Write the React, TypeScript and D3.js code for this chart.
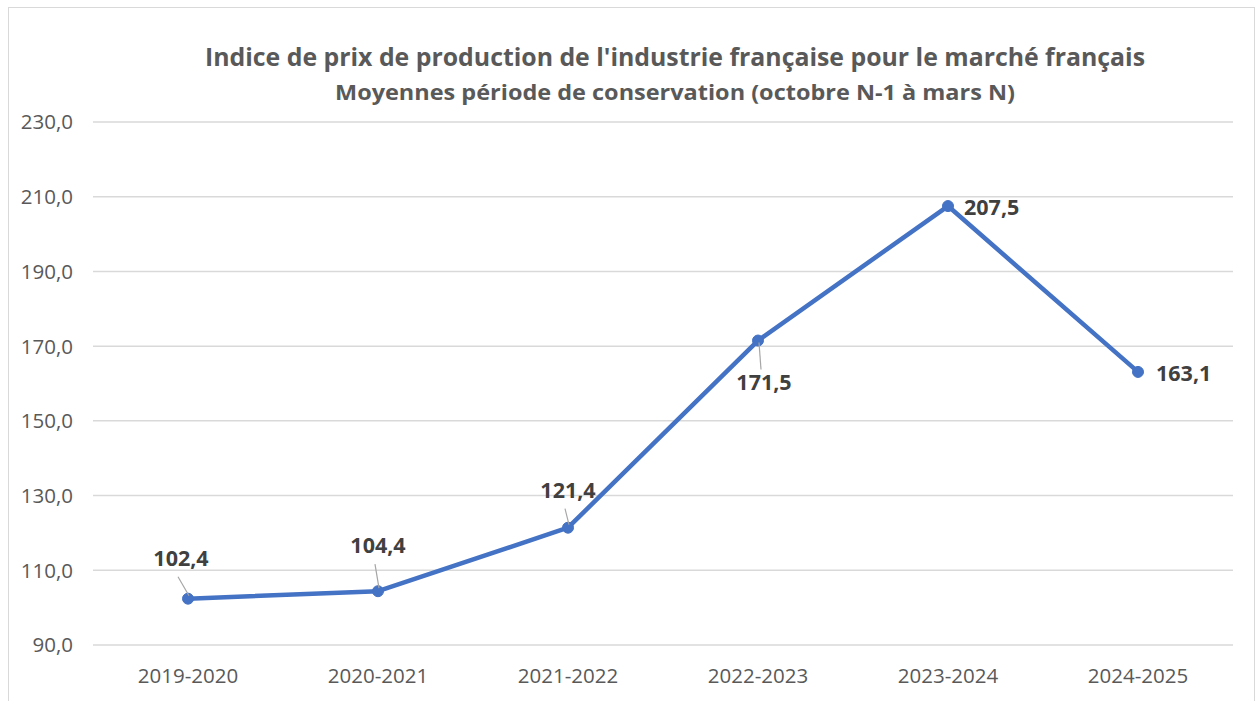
import React from 'react';
import * as d3 from 'd3';

// chart data
const seasons = ['2019-2020', '2020-2021', '2021-2022', '2022-2023', '2023-2024', '2024-2025'];
const indexValues = [102.4, 104.4, 121.4, 171.5, 207.5, 163.1];
const yTicks = [90, 110, 130, 150, 170, 190, 210, 230];

const titleLine1 = "Indice de prix de production de l'industrie française pour le marché français";
const titleLine2 = 'Moyennes période de conservation (octobre N-1 à mars N)';

// label placement relative to the point: [dx, dy, anchor, leader?]
const labelPlacement: [number, number, string, boolean][] = [
  [-7, -33, 'middle', true],
  [0, -38, 'middle', true],
  [0, -30, 'middle', true],
  [6, 49, 'middle', true],
  [16, 9, 'start', false],
  [18, 9, 'start', false],
];

const W = 1258;
const H = 701;
const margin = { top: 122, right: 25, bottom: 56, left: 93 };

const fmt = (v: number) => v.toFixed(1).replace('.', ',');

const App = () => {
  const x = d3.scaleBand<string>()
    .domain(seasons)
    .range([margin.left, W - margin.right]);

  const y = d3.scaleLinear()
    .domain([90, 230])
    .range([H - margin.bottom, margin.top]);

  const cx = (d: string) => (x(d) ?? 0) + x.bandwidth() / 2;

  const line = d3.line<number>()
    .x((d, i) => cx(seasons[i]))
    .y(d => y(d));

  const font = "'Open Sans', 'Noto Sans', sans-serif";

  return (
    <div style={{ position: 'absolute', left: 0, top: 0 }}>
      <svg width={W} height={H} style={{ display: 'block', fontFamily: font }}>
        <rect x={0} y={0} width={W} height={H} fill="#ffffff" />
        <rect x={8.5} y={7.5} width={1246} height={700} fill="none" stroke="#d9d9d9" strokeWidth={1} />

        {/* title */}
        <text x={675} y={66} textAnchor="middle" fontSize={24.5} fontWeight={700} fill="#595959"
          textLength={940} lengthAdjust="spacingAndGlyphs">
          {titleLine1}
        </text>
        <text x={675} y={100} textAnchor="middle" fontSize={21.5} fontWeight={700} fill="#595959"
          textLength={680} lengthAdjust="spacingAndGlyphs">
          {titleLine2}
        </text>

        {/* grid and y axis */}
        {yTicks.map(t => (
          <g key={t}>
            <line x1={margin.left} x2={W - margin.right} y1={y(t)} y2={y(t)} stroke="#d9d9d9" strokeWidth={1.5} />
            <text x={73} y={y(t)} dy="0.36em" textAnchor="end" fontSize={20.5} fill="#595959">
              {fmt(t)}
            </text>
          </g>
        ))}

        {/* x axis labels */}
        {seasons.map(s => (
          <text key={s} x={cx(s)} y={683} textAnchor="middle" fontSize={20.5} fill="#595959">
            {s}
          </text>
        ))}

        {/* series line */}
        <path d={line(indexValues) ?? ''} fill="none" stroke="#4472c4" strokeWidth={4.5} strokeLinejoin="round" />
        {indexValues.map((v, i) => (
          <circle key={i} cx={cx(seasons[i])} cy={y(v)} r={5.5} fill="#4472c4" stroke="#4472c4" />
        ))}

        {/* data labels */}
        {indexValues.map((v, i) => {
          const [dx, dy, anchor, leader] = labelPlacement[i];
          const px = cx(seasons[i]);
          const py = y(v);
          const lx = px + dx;
          const ly = py + dy;
          return (
            <g key={'l' + i}>
              {leader && (
                <line
                  x1={dy < 0 ? lx - 3 : lx - 3}
                  y1={dy < 0 ? ly + 11 : ly - 20}
                  x2={px + 1}
                  y2={dy < 0 ? py - 3 : py + 2}
                  stroke="#a6a6a6"
                  strokeWidth={1.2}
                />
              )}
              <text x={lx} y={ly} textAnchor={anchor} fontSize={21.5} fontWeight={700} fill="#404040">
                {fmt(v)}
              </text>
            </g>
          );
        })}
      </svg>
    </div>
  );
};

export default App;
